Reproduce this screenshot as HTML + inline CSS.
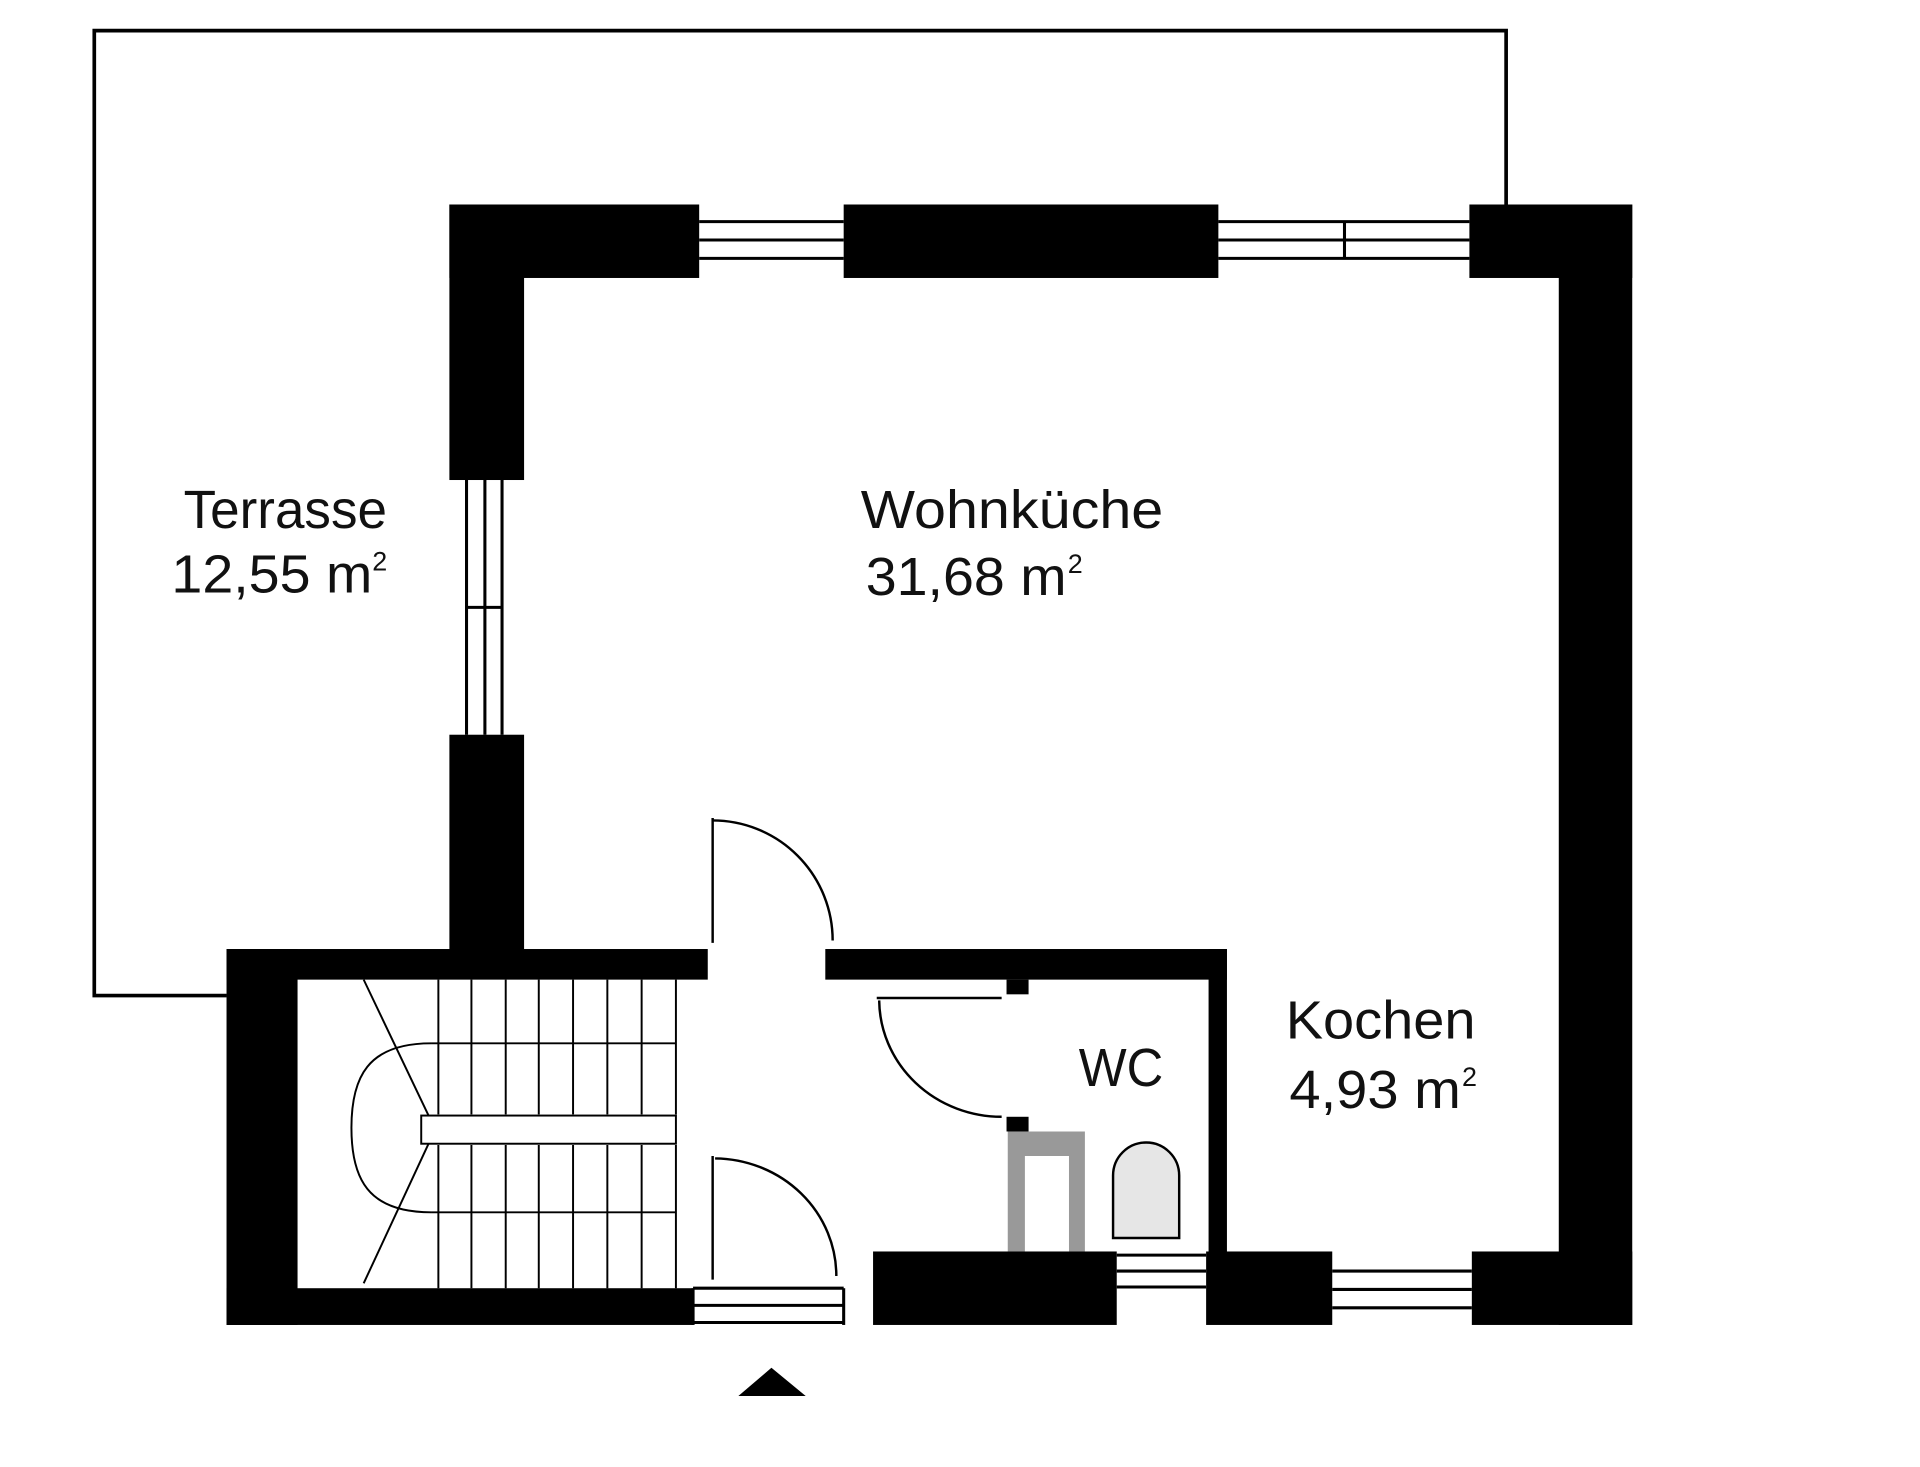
<!DOCTYPE html>
<html><head><meta charset="utf-8"><style>
html,body{margin:0;padding:0;background:#fff;}
svg{display:block}
text{font-family:"Liberation Sans Narrow","Liberation Sans",sans-serif;fill:#111;}
</style></head><body>
<svg width="1920" height="1467" viewBox="0 0 1568 1198" preserveAspectRatio="none" xmlns="http://www.w3.org/2000/svg">
<rect width="1568" height="1198" fill="#fff"/>
<polyline points="1230,167 1230,25 77,25 77,813 185,813" fill="none" stroke="#000" stroke-width="3"/>
<g fill="#000">
<rect x="367" y="167" width="204" height="60"/>
<rect x="689" y="167" width="306" height="60"/>
<rect x="1200" y="167" width="133" height="60"/>
<rect x="1273" y="167" width="60" height="915"/>
<rect x="367" y="167" width="61" height="225"/>
<rect x="367" y="600" width="61" height="185"/>
<rect x="185" y="775" width="393" height="25"/>
<rect x="674" y="775" width="328" height="25"/>
<rect x="185" y="775" width="58" height="307"/>
<rect x="185" y="1052" width="381" height="30"/>
<rect x="713" y="1022" width="199" height="60"/>
<rect x="987" y="775" width="15" height="250"/>
<rect x="985" y="1022" width="103" height="60"/>
<rect x="1202" y="1022" width="131" height="60"/>
<rect x="822" y="800" width="18" height="12"/>
<rect x="822" y="912" width="18" height="12"/>
<polygon points="603,1140 658,1140 630,1117"/>
</g>
<g stroke="#000" stroke-width="2.5" fill="none">
<line x1="571" y1="181" x2="689" y2="181"/><line x1="571" y1="196" x2="689" y2="196"/><line x1="571" y1="211" x2="689" y2="211"/>
<line x1="995" y1="181" x2="1200" y2="181"/><line x1="995" y1="196" x2="1200" y2="196"/><line x1="995" y1="211" x2="1200" y2="211"/>
<line x1="1098" y1="181" x2="1098" y2="211"/>
<line x1="381" y1="392" x2="381" y2="600"/><line x1="396" y1="392" x2="396" y2="600"/><line x1="410" y1="392" x2="410" y2="600"/>
<line x1="381" y1="496" x2="410" y2="496"/>
<line x1="566" y1="1052" x2="689" y2="1052"/><line x1="566" y1="1066" x2="689" y2="1066"/><line x1="566" y1="1080" x2="689" y2="1080"/>
<line x1="566" y1="1052" x2="566" y2="1082"/><line x1="689" y1="1052" x2="689" y2="1082"/>
<line x1="912" y1="1025" x2="985" y2="1025"/><line x1="912" y1="1038" x2="985" y2="1038"/><line x1="912" y1="1051" x2="985" y2="1051"/>
<line x1="1088" y1="1038" x2="1202" y2="1038"/><line x1="1088" y1="1053" x2="1202" y2="1053"/><line x1="1088" y1="1068" x2="1202" y2="1068"/>
</g>
<g stroke="#000" stroke-width="2" fill="none">
<line x1="582" y1="668" x2="582" y2="770"/>
<path d="M582,670 A98,98 0 0 1 680,768"/>
<line x1="582" y1="944" x2="582" y2="1045"/>
<path d="M584,946 A100,96 0 0 1 683,1042"/>
<line x1="716" y1="815" x2="818" y2="815"/>
<path d="M718,817 A100,96 0 0 0 818,912"/>
</g>
<g stroke="#000" stroke-width="1.6" fill="none">
<line x1="358" y1="800" x2="358" y2="910"/><line x1="385" y1="800" x2="385" y2="910"/><line x1="413" y1="800" x2="413" y2="910"/><line x1="440" y1="800" x2="440" y2="910"/><line x1="468" y1="800" x2="468" y2="910"/><line x1="496" y1="800" x2="496" y2="910"/><line x1="524" y1="800" x2="524" y2="910"/><line x1="552" y1="800" x2="552" y2="910"/>
<line x1="358" y1="935" x2="358" y2="1052"/><line x1="385" y1="935" x2="385" y2="1052"/><line x1="413" y1="935" x2="413" y2="1052"/><line x1="440" y1="935" x2="440" y2="1052"/><line x1="468" y1="935" x2="468" y2="1052"/><line x1="496" y1="935" x2="496" y2="1052"/><line x1="524" y1="935" x2="524" y2="1052"/><line x1="552" y1="935" x2="552" y2="1052"/>
<rect x="344" y="911" width="208" height="23"/>
<line x1="352" y1="852" x2="552" y2="852"/>
<line x1="352" y1="990" x2="552" y2="990"/>
<path d="M352,852 C300,852 287,880 287,921 C287,962 300,990 352,990"/>
<line x1="297" y1="800" x2="350" y2="911"/>
<line x1="350" y1="934" x2="297" y2="1048"/>
</g>
<path d="M823,1022 V924 H886 V1022 H873 V944 H837 V1022 Z" fill="#999"/>
<path d="M909,1011 V960 A27,27 0 0 1 963,960 V1011 Z" fill="#e6e6e6" stroke="#000" stroke-width="2"/>
<text x="150" y="431" font-size="44" textLength="166" lengthAdjust="spacingAndGlyphs">Terrasse</text>
<text x="140" y="484" font-size="44" textLength="164" lengthAdjust="spacingAndGlyphs">12,55 m</text>
<text x="304" y="466" font-size="22">2</text>
<text x="703" y="431" font-size="44" textLength="247" lengthAdjust="spacingAndGlyphs">Wohnküche</text>
<text x="707" y="486" font-size="44" textLength="164" lengthAdjust="spacingAndGlyphs">31,68 m</text>
<text x="872" y="468" font-size="22">2</text>
<text x="1050" y="848" font-size="44" textLength="155" lengthAdjust="spacingAndGlyphs">Kochen</text>
<text x="1053" y="905" font-size="44" textLength="140" lengthAdjust="spacingAndGlyphs">4,93 m</text>
<text x="1194" y="887" font-size="22">2</text>
<text x="881" y="887" font-size="44" textLength="69" lengthAdjust="spacingAndGlyphs">WC</text>
</svg>
</body></html>
